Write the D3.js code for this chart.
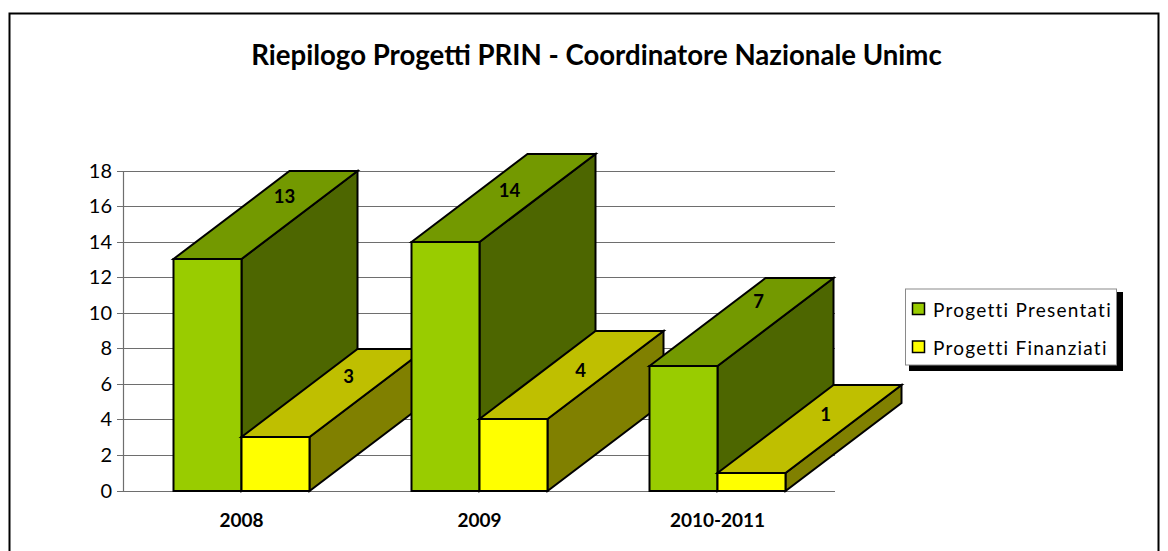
<!DOCTYPE html>
<html><head><meta charset="utf-8">
<script src="https://cdn.jsdelivr.net/npm/d3@7"></script>
<style>html,body{margin:0;padding:0;background:#fff}svg{display:block}text{font-family:Lato,"Open Sans",sans-serif;fill:#000}</style>
</head><body><svg id="c" width="1168" height="551"></svg>
<script>
const titleText = "Riepilogo Progetti PRIN - Coordinatore Nazionale Unimc";
const categories = ["2008", "2009", "2010-2011"];
const seriesNames = ["Progetti Presentati", "Progetti Finanziati"];
const presentati = [13, 14, 7];
const finanziati = [3, 4, 1];
const yTicks = [0, 2, 4, 6, 8, 10, 12, 14, 16, 18];
const frontColors = ["#99cc00", "#ffff00"];
const topColors = ["#739900", "#bfbf00"];
const sideColors = ["#4d6600", "#808000"];
// value-label placement on the top faces, relative to each bar's front top centre
const labelShiftX = [[77, 64, 75], [73, 67, 74]];
const labelShiftY = [[56, 45, 58], [54, 42, 52]];

const svg = d3.select("#c");
const yRaw = d3.scaleLinear().domain([0, 18]).range([491, 171]);
const y = v => Math.floor(yRaw(v));
const x = d3.scaleBand().domain(categories).range([123, 837]);
const sub = d3.scaleBand().domain(seriesNames).range([50.5, 186.5]);
const dx = 116, dy = 88;
const seriesValues = [presentati, finanziati];

// frame
svg.append("rect").attr("x", 9.5).attr("y", 13.5).attr("width", 1149).attr("height", 560)
  .attr("fill", "#fff").attr("stroke", "#000").attr("stroke-width", 2);

// title
svg.append("text").attr("x", 596.5).attr("y", 65).attr("text-anchor", "middle")
  .attr("font-size", 27.6).attr("font-weight", 700).text(titleText);

// grid + axis
const g = svg.append("g");
g.selectAll("line.grid").data(yTicks).join("line").attr("class", "grid")
  .attr("x1", 117).attr("x2", 835).attr("y1", d => y(d) + 0.5).attr("y2", d => y(d) + 0.5)
  .attr("stroke", "#6e6e6e").attr("stroke-width", 1.2);
g.append("line").attr("x1", 123.5).attr("x2", 123.5).attr("y1", y(18)).attr("y2", y(0))
  .attr("stroke", "#6e6e6e").attr("stroke-width", 1.2);
g.selectAll("text.yt").data(yTicks).join("text").attr("class", "yt")
  .attr("x", 112).attr("y", d => y(d) + 7).attr("text-anchor", "end")
  .attr("font-size", 20).text(d => d);
g.selectAll("text.xt").data(categories).join("text").attr("class", "xt")
  .attr("x", d => x(d) + 118.5).attr("y", 527).attr("text-anchor", "middle")
  .attr("font-size", 19).attr("font-weight", 700).text(d => d);

// 3D bars
const pts = a => a.map(p => p.join(",")).join(" ");
const bars = svg.append("g").attr("stroke", "#000").attr("stroke-width", 2).attr("stroke-linejoin", "miter");
categories.forEach((cat, ci) => {
  seriesNames.forEach((s, si) => {
    const v = seriesValues[si][ci];
    const x0 = x(cat) + sub(s), x1 = x0 + sub.bandwidth();
    const yT = y(v), yB = y(0);
    bars.append("polygon").attr("fill", sideColors[si])
      .attr("points", pts([[x1, yT], [x1 + dx, yT - dy], [x1 + dx, yB - dy], [x1, yB]]));
    bars.append("polygon").attr("fill", topColors[si])
      .attr("points", pts([[x0, yT], [x0 + dx, yT - dy], [x1 + dx, yT - dy], [x1, yT]]));
    bars.append("rect").attr("fill", frontColors[si])
      .attr("x", x0).attr("y", yT).attr("width", x1 - x0).attr("height", yB - yT);
  });
});
categories.forEach((cat, ci) => {
  seriesNames.forEach((s, si) => {
    const v = seriesValues[si][ci];
    svg.append("text").attr("x", x(cat) + sub(s) + sub.bandwidth() / 2 + labelShiftX[si][ci])
      .attr("y", y(v) - labelShiftY[si][ci]).attr("text-anchor", "middle")
      .attr("font-size", 18.5).attr("font-weight", 700).text(v);
  });
});

// legend
const L = svg.append("g");
L.append("rect").attr("x", 909).attr("y", 292).attr("width", 214).attr("height", 79).attr("fill", "#000");
L.append("rect").attr("x", 905.5).attr("y", 289).attr("width", 211).attr("height", 76)
  .attr("fill", "#fff").attr("stroke", "#8a8a8a").attr("stroke-width", 1);
seriesNames.forEach((s, i) => {
  L.append("rect").attr("x", 912.5).attr("y", 303 + i * 38).attr("width", 12).attr("height", 11.5)
    .attr("fill", frontColors[i]).attr("stroke", "#000").attr("stroke-width", 1.5);
  L.append("text").attr("x", 933).attr("y", 317 + i * 38).attr("font-size", 19)
    .attr("letter-spacing", 1.25).text(s);
});
</script></body></html>
